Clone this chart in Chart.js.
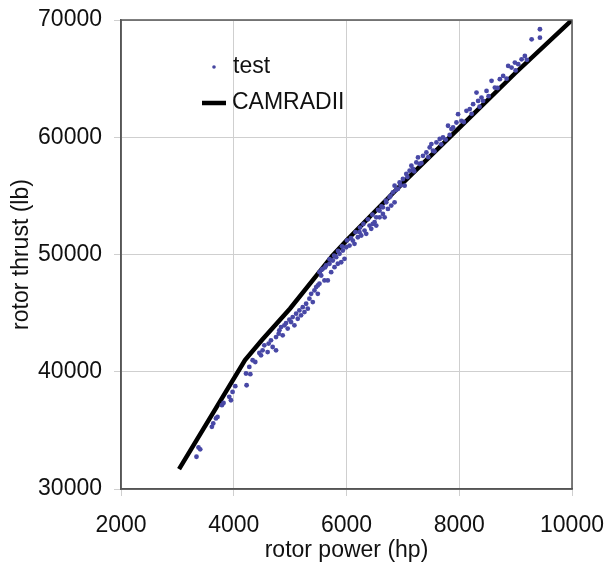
<!DOCTYPE html>
<html>
<head>
<meta charset="utf-8">
<script src="https://cdn.jsdelivr.net/npm/chart.js@4/dist/chart.umd.min.js"></script>
<style>
  html, body { margin: 0; padding: 0; background: #fff; }
  #wrap { width: 607px; height: 566px; }
</style>
</head>
<body>
<div id="wrap"><canvas id="thrustChart" width="607" height="566"></canvas></div>
<script>
// 轴刻度
const xTicks = [2000, 4000, 6000, 8000, 10000];
const yTicks = [30000, 40000, 50000, 60000, 70000];

// 试验数据 (rotor power hp, rotor thrust lb)
const testPower = [
  3339, 3375, 3405, 3612, 3636, 3684, 3712, 3790, 3819, 3920, 3950, 3979, 4027, 4228, 4217, 4294, 4276, 4382,
  4335, 4454, 4484, 4512, 4542, 4601, 4619, 4660, 4690, 4750, 4750, 4797, 4809, 4839, 4868, 4898, 4928, 4957,
  4987, 5017, 5046, 5076, 5106, 5135, 5164, 5194, 5224, 5254, 5284, 5313, 5342, 5373, 5402, 5431, 5462, 5491, 5520,
  5491, 5520, 5551, 5579, 5609, 5668, 5639, 5698, 5728, 5757, 5787, 5817, 5846, 5876, 5906, 5935, 5965, 5995,
  6054, 6112, 6142, 6201, 6231, 6262, 6320, 6350, 6409, 6439, 6498, 6528, 6587, 6646, 6676, 6735, 6794, 6853,
  6466, 6528, 6587, 6646, 6705, 6764, 6823, 6853, 6912, 6942, 7001, 7031, 7061, 7120, 7151, 7179, 7239, 7268,
  7298, 7357, 7417, 7476, 7506, 7534, 7595, 7654, 7712, 7801, 7861, 7950,
  7890, 7979, 8039, 8128, 8187, 8246, 8306, 8335, 8394, 8423, 8484, 8573, 8632, 8720, 8779, 8868, 8928, 8987,
  9046, 9106, 9164, 9284, 9431, 9431,
  // 线附近的密集点
  5560, 5620, 5700, 5780, 5850, 5920, 6010, 6080, 6160, 6240, 6300, 6380, 6460, 6560, 6620, 6700, 6780, 6880,
  6960, 7080, 7200, 7330, 7450, 7560, 7680, 7760, 7830, 8080, 8220, 8360, 8520, 8680, 8840, 9000, 9200
];
const testThrust = [
  32750, 33550, 33380, 35300, 35590, 36020, 36150, 37150, 37340, 37860, 37570, 38280, 38770, 38850, 39850, 39790, 40410, 40830,
  40980, 41600, 41400, 41830, 42250, 41680, 42400, 42680, 42110, 41830, 42960, 43250, 43530, 43810, 43110, 43960, 44150, 43680,
  44440, 44240, 44660, 43960, 44950, 44520, 45230, 44810, 45510, 45090, 45800, 45380, 46230, 46650, 45940, 46940, 47220, 46650, 47510,
  47360, 48490, 48210, 48780, 47790, 47790, 49060, 49210, 48490, 49490, 48920, 49770, 49210, 50060, 49340, 50340, 49630, 50620,
  50760, 51190, 50910, 51470, 51900, 51620, 52040, 51760, 52470, 52190, 52750, 52470, 53170, 53460, 53170, 53890, 54170, 54450,
  52610, 53170, 53740, 54020, 54450, 54880, 55300, 55870, 55590, 56150, 56440, 55870, 56870, 57150, 57570, 57290, 57850, 58280,
  57720, 58420, 58700, 59130, 59420, 58850, 59560, 59850, 59980, 60980, 60700, 61260,
  60830, 61970, 61400, 62250, 62400, 62820, 63810, 63100, 63380, 63100, 63950, 64810, 64240, 64950, 65230, 66080, 65940, 66370,
  66230, 66650, 66930, 68350, 69210, 68490,
  48700, 48900, 49600, 49900, 50300, 50700, 51200, 51400, 51900, 52300, 52600, 53000, 53400, 53800, 54100, 54600, 55000, 55500,
  55900, 56600, 57100, 57800, 58300, 58800, 59400, 59800, 60200, 61300, 62000, 62600, 63500, 64200, 65000, 65700, 66600
];

// CAMRADII 计算曲线
const camPower = [3030, 4200, 4500, 5000, 5750, 6000, 7000, 8000, 9000, 10000];
const camThrust = [31700, 41000, 42700, 45400, 49900, 51200, 56100, 60800, 65500, 70000];

const testPoints = testPower.map((p, i) => ({ x: p, y: testThrust[i] }));
const camPoints = camPower.map((p, i) => ({ x: p, y: camThrust[i] }));

const fontFamily = '"Liberation Sans", Arial, Helvetica, sans-serif';

// 图框与图例
const framePlugin = {
  id: 'frame',
  afterDraw(chart) {
    const { ctx, chartArea } = chart;
    ctx.save();
    ctx.strokeStyle = '#555';
    ctx.lineWidth = 1.5;
    ctx.strokeRect(chartArea.left, chartArea.top, chartArea.right - chartArea.left, chartArea.bottom - chartArea.top);

    // 图例
    const lx = chartArea.left + 93;
    const ly1 = chartArea.top + 47;
    const ly2 = chartArea.top + 83;
    ctx.fillStyle = '#4545a0';
    ctx.beginPath();
    ctx.arc(lx, ly1, 1.8, 0, Math.PI * 2);
    ctx.fill();
    ctx.strokeStyle = '#000';
    ctx.lineWidth = 4.5;
    ctx.beginPath();
    ctx.moveTo(lx - 12, ly2);
    ctx.lineTo(lx + 12, ly2);
    ctx.stroke();
    ctx.fillStyle = '#111';
    ctx.font = '23px ' + fontFamily;
    ctx.textBaseline = 'middle';
    ctx.textAlign = 'left';
    ctx.fillText(chart.data.datasets[0].label, lx + 19, ly1);
    ctx.fillText(chart.data.datasets[1].label, lx + 18, ly2);
    ctx.restore();
  }
};

const ctx = document.getElementById('thrustChart').getContext('2d');
const chart = new Chart(ctx, {
  type: 'scatter',
  data: {
    datasets: [
      {
        label: 'test',
        data: testPoints,
        pointRadius: 2.4,
        pointBackgroundColor: '#4848a6',
        pointBorderWidth: 0,
        showLine: false
      },
      {
        label: 'CAMRADII',
        data: camPoints,
        showLine: true,
        borderColor: '#000',
        borderWidth: 4.5,
        pointRadius: 0,
        tension: 0
      }
    ]
  },
  options: {
    responsive: false,
    animation: false,
    layout: { padding: { top: 20, right: 35, left: 0, bottom: 0 } },
    plugins: {
      legend: { display: false },
      tooltip: { enabled: false }
    },
    scales: {
      x: {
        type: 'linear',
        min: xTicks[0],
        max: xTicks[xTicks.length - 1],
        afterBuildTicks: (scale) => { scale.ticks = xTicks.map(v => ({ value: v })); },
        afterFit: (scale) => {
          scale.height = 77;
          scale.paddingLeft = 0;
          scale.paddingRight = 0;
        },
        grid: { color: '#cfcfcf', lineWidth: 1, tickLength: 7 },
        border: { color: '#555', width: 1.5 },
        ticks: {
          color: '#111',
          padding: 16,
          font: { family: fontFamily, size: 23 },
          callback: v => String(v)
        },
        title: {
          display: true,
          text: 'rotor power (hp)',
          color: '#111',
          padding: { top: 0, bottom: 2 },
          font: { family: fontFamily, size: 23 }
        }
      },
      y: {
        type: 'linear',
        min: yTicks[0],
        max: yTicks[yTicks.length - 1],
        afterBuildTicks: (scale) => { scale.ticks = yTicks.map(v => ({ value: v })); },
        afterFit: (scale) => {
          scale.width = 121;
          scale.paddingTop = 0;
          scale.paddingBottom = 0;
        },
        grid: { color: '#cfcfcf', lineWidth: 1, tickLength: 7 },
        border: { color: '#555', width: 1.5 },
        ticks: {
          color: '#111',
          padding: 12,
          font: { family: fontFamily, size: 23 },
          callback: v => String(v)
        },
        title: {
          display: true,
          text: 'rotor thrust (lb)',
          color: '#111',
          padding: { top: 8, bottom: 0 },
          font: { family: fontFamily, size: 23 }
        }
      }
    }
  },
  plugins: [framePlugin]
});
</script>
</body>
</html>
